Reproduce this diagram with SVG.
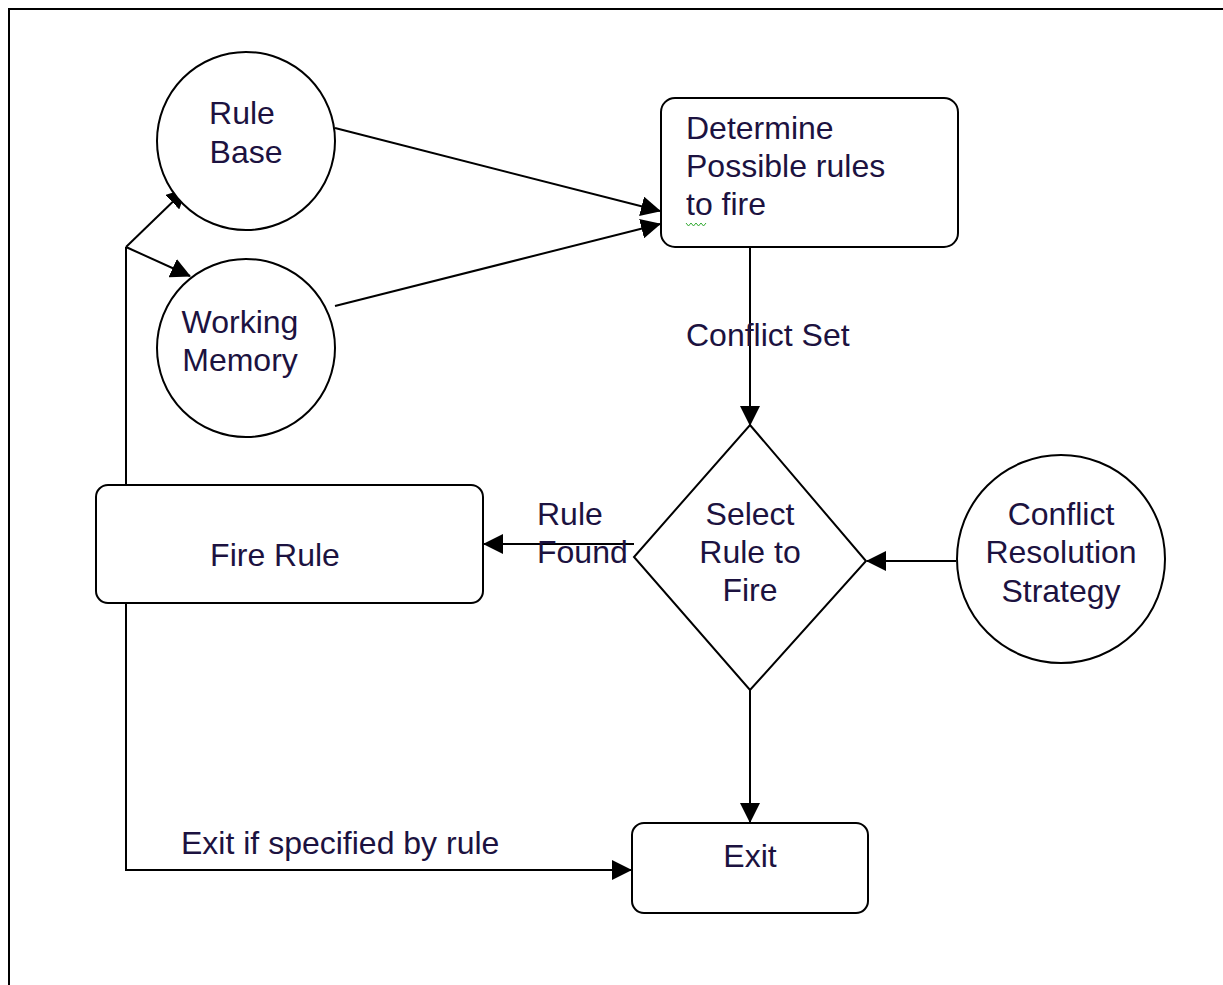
<svg xmlns="http://www.w3.org/2000/svg" width="1223" height="985" viewBox="0 0 1223 985">
  <style>
    .shape { fill: #fff; stroke: #000; stroke-width: 2; }
    .edge { fill: none; stroke: #000; stroke-width: 2; }
    .lbl { font-family: "Liberation Sans", Arial, sans-serif; font-size: 32px; fill: #1c1240; }
    .mid { text-anchor: middle; }
  </style>
  <defs>
    <marker id="arrow" viewBox="0 0 20 20" refX="19" refY="10" markerWidth="20" markerHeight="20" markerUnits="userSpaceOnUse" orient="auto">
      <path d="M0,0 L20,10 L0,20 Z" fill="#000"/>
    </marker>
  </defs>

  <rect width="1223" height="985" fill="#fff"/>
  <!-- outer frame -->
  <path class="edge" d="M9,985 V9 H1223"/>

  <g id="connectors">
    <path class="edge" d="M335,128 L660,211" marker-end="url(#arrow)"/>
    <path class="edge" d="M335,306 L660,224" marker-end="url(#arrow)"/>
    <path class="edge" d="M750,247 V425" marker-end="url(#arrow)"/>
    <path class="edge" d="M956,561 H867" marker-end="url(#arrow)"/>
    <path class="edge" d="M634,544 H484" marker-end="url(#arrow)"/>
    <path class="edge" d="M750,690 V822" marker-end="url(#arrow)"/>
    <path class="edge" d="M126,485 V247"/>
    <path class="edge" d="M126,247 L186,189" marker-end="url(#arrow)"/>
    <path class="edge" d="M126,247 L190,276" marker-end="url(#arrow)"/>
    <path class="edge" d="M126,603 V870 H631" marker-end="url(#arrow)"/>
    <text class="lbl" x="686" y="346">Conflict Set</text>
    <text class="lbl" x="537" y="525">Rule</text>
    <text class="lbl" x="537" y="563">Found</text>
    <text class="lbl" x="181" y="854">Exit if specified by rule</text>
  </g>

  <g id="rule-base">
    <circle class="shape" cx="246" cy="141" r="89"/>
    <text class="lbl mid" x="242" y="124">Rule</text>
    <text class="lbl mid" x="246" y="163">Base</text>
  </g>

  <g id="working-memory">
    <circle class="shape" cx="246" cy="348" r="89"/>
    <text class="lbl mid" x="240" y="333">Working</text>
    <text class="lbl mid" x="240" y="371">Memory</text>
  </g>

  <g id="determine-rules">
    <rect class="shape" x="661" y="98" width="297" height="149" rx="14"/>
    <text class="lbl" x="686" y="139">Determine</text>
    <text class="lbl" x="686" y="177">Possible rules</text>
    <text class="lbl" x="686" y="215">to fire</text>
    <path d="M686,223 l2.5,3 l2.5,-3 l2.5,3 l2.5,-3 l2.5,3 l2.5,-3 l2.5,3 l2.5,-3" fill="none" stroke="#3a3" stroke-width="1"/>
  </g>

  <g id="select-rule">
    <path class="shape" d="M750,425 L866,561 L750,690 L634,557 Z"/>
    <text class="lbl mid" x="750" y="525">Select</text>
    <text class="lbl mid" x="750" y="563">Rule to</text>
    <text class="lbl mid" x="750" y="601">Fire</text>
  </g>

  <g id="conflict-resolution">
    <circle class="shape" cx="1061" cy="559" r="104"/>
    <text class="lbl mid" x="1061" y="525">Conflict</text>
    <text class="lbl mid" x="1061" y="563">Resolution</text>
    <text class="lbl mid" x="1061" y="602">Strategy</text>
  </g>

  <g id="fire-rule">
    <rect class="shape" x="96" y="485" width="387" height="118" rx="12"/>
    <text class="lbl mid" x="275" y="566">Fire Rule</text>
  </g>

  <g id="exit">
    <rect class="shape" x="632" y="823" width="236" height="90" rx="12"/>
    <text class="lbl mid" x="750" y="867">Exit</text>
  </g>
</svg>
